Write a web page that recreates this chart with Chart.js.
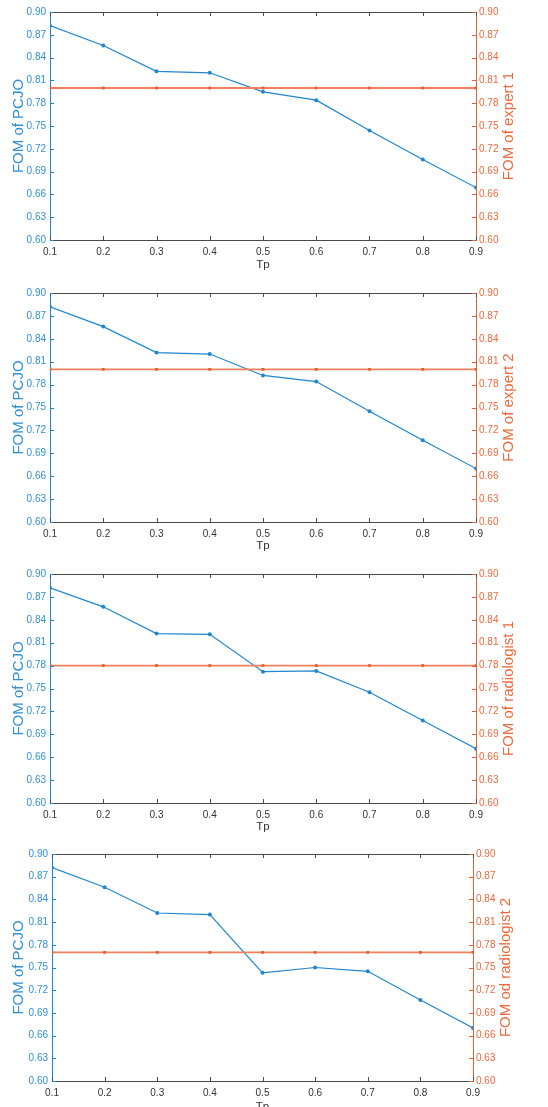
<!DOCTYPE html>
<html>
<head>
<meta charset="utf-8">
<script src="https://cdn.jsdelivr.net/npm/chart.js@4"></script>
<style>
  html, body { margin: 0; padding: 0; background: #fff; overflow: hidden; }
  body { width: 548px; height: 1107px; position: relative; }
  .panel { position: absolute; left: 0; width: 548px; height: 281px; }
</style>
</head>
<body>
<div class="panel" style="top:0px"><canvas id="c1"></canvas></div>
<div class="panel" style="top:281px"><canvas id="c2"></canvas></div>
<div class="panel" style="top:562px"><canvas id="c3"></canvas></div>
<div class="panel" style="top:842px"><canvas id="c4"></canvas></div>
<script>
// data
const tpValues = [0.1, 0.2, 0.3, 0.4, 0.5, 0.6, 0.7, 0.8, 0.9];
const yTicks = [0.60, 0.63, 0.66, 0.69, 0.72, 0.75, 0.78, 0.81, 0.84, 0.87, 0.90];

const pcjoExpert1 = [0.882, 0.856, 0.822, 0.820, 0.795, 0.784, 0.744, 0.706, 0.669];
const pcjoExpert2 = [0.882, 0.856, 0.822, 0.820, 0.792, 0.784, 0.745, 0.707, 0.670];
const pcjoRadiologist1 = [0.882, 0.857, 0.822, 0.821, 0.772, 0.773, 0.745, 0.708, 0.671];
const pcjoRadiologist2 = [0.882, 0.856, 0.822, 0.820, 0.743, 0.750, 0.745, 0.707, 0.670];

const expert1 = [0.80, 0.80, 0.80, 0.80, 0.80, 0.80, 0.80, 0.80, 0.80];
const expert2 = [0.80, 0.80, 0.80, 0.80, 0.80, 0.80, 0.80, 0.80, 0.80];
const radiologist1 = [0.78, 0.78, 0.78, 0.78, 0.78, 0.78, 0.78, 0.78, 0.78];
const radiologist2 = [0.77, 0.77, 0.77, 0.77, 0.77, 0.77, 0.77, 0.77, 0.77];

const leftTitle = "FOM of PCJO";
const rightTitles = ["FOM of expert 1", "FOM of expert 2", "FOM of radiologist 1", "FOM od radiologist 2"];

const BLUE = "#1f86cf";
const BLUE_TXT = "#3090d6";
const ORANGE = "#e65f30";
const ORANGE_TXT = "#ee6a3c";
const DARK = "#4a4a4a";
const FONT = "'Liberation Sans', Arial, sans-serif";

function pts(ys) {
    return tpValues.map((x, i) => ({ x: x, y: ys[i] }));
}

// MATLAB-like frame: inward ticks, black top edge, right axis label bottom-to-top
const framePlugin = {
    id: "frame",
    afterDraw(chart, args, opts) {
        const ctx = chart.ctx;
        const a = chart.chartArea;
        const xs = chart.scales.x, yl = chart.scales.y, yr = chart.scales.y2;
        const tl = 4;
        ctx.save();
        ctx.lineWidth = 1;

        // top edge
        ctx.strokeStyle = DARK;
        ctx.beginPath();
        ctx.moveTo(a.left, a.top + 0.5);
        ctx.lineTo(a.right, a.top + 0.5);
        ctx.stroke();

        // x ticks (bottom + top)
        tpValues.forEach(v => {
            const px = Math.round(xs.getPixelForValue(v)) + 0.5;
            ctx.beginPath();
            ctx.moveTo(px, a.bottom);
            ctx.lineTo(px, a.bottom - tl);
            ctx.moveTo(px, a.top);
            ctx.lineTo(px, a.top + tl);
            ctx.stroke();
        });

        // left ticks
        ctx.strokeStyle = BLUE;
        yTicks.forEach(v => {
            const py = Math.round(yl.getPixelForValue(v)) + 0.5;
            ctx.beginPath();
            ctx.moveTo(a.left, py);
            ctx.lineTo(a.left + tl, py);
            ctx.stroke();
        });

        // right ticks
        ctx.strokeStyle = ORANGE;
        yTicks.forEach(v => {
            const py = Math.round(yr.getPixelForValue(v)) + 0.5;
            ctx.beginPath();
            ctx.moveTo(a.right, py);
            ctx.lineTo(a.right - tl, py);
            ctx.stroke();
        });

        // right axis title
        ctx.fillStyle = ORANGE_TXT;
        ctx.font = "15px " + FONT;
        ctx.textAlign = "center";
        ctx.textBaseline = "middle";
        ctx.translate(opts.titleX, (a.top + a.bottom) / 2);
        ctx.rotate(-Math.PI / 2);
        ctx.fillText(opts.rightTitle, 0, 0);
        ctx.restore();
    }
};

function makePanel(id, pcjo, ref, rightTitle, leftW, rightW, plotH) {
    const tickFont = { family: FONT, size: 10 };
    new Chart(document.getElementById(id), {
        type: "line",
        data: {
            datasets: [{
                data: pts(ref),
                yAxisID: "y2",
                borderColor: "#f0805c",
                backgroundColor: ORANGE,
                borderWidth: 1.8,
                pointRadius: 2,
                pointStyle: "rect",
                pointBorderWidth: 0
            }, {
                data: pts(pcjo),
                yAxisID: "y",
                borderColor: BLUE,
                backgroundColor: BLUE,
                borderWidth: 1.2,
                pointRadius: 2,
                pointBorderWidth: 0
            }]
        },
        options: {
            responsive: true,
            maintainAspectRatio: false,
            animation: false,
            layout: { padding: { top: 12, left: 0, right: 0, bottom: 0 } },
            plugins: {
                legend: { display: false },
                tooltip: { enabled: false },
                frame: { rightTitle: rightTitle, titleX: 548 - rightW + 33 }
            },
            scales: {
                x: {
                    type: "linear",
                    min: 0.1,
                    max: 0.9,
                    afterBuildTicks: s => { s.ticks = tpValues.map(v => ({ value: v })); },
                    afterFit: s => { s.height = 281 - 12 - plotH; },
                    grid: { display: false, drawTicks: false },
                    border: { display: true, color: DARK, width: 1 },
                    ticks: {
                        color: "#333",
                        font: tickFont,
                        padding: 6,
                        maxRotation: 0,
                        autoSkip: false,
                        callback: v => v.toFixed(1)
                    },
                    title: {
                        display: true,
                        text: "Tp",
                        color: "#333",
                        font: { family: FONT, size: 11.5 },
                        padding: { top: 0, bottom: 9 }
                    }
                },
                y: {
                    position: "left",
                    min: 0.6,
                    max: 0.9,
                    afterBuildTicks: s => { s.ticks = yTicks.map(v => ({ value: v })); },
                    afterFit: s => { s.width = leftW; },
                    grid: { display: false, drawTicks: false },
                    border: { display: true, color: BLUE, width: 1 },
                    ticks: {
                        color: BLUE_TXT,
                        font: tickFont,
                        padding: 4,
                        autoSkip: false,
                        callback: v => v.toFixed(2)
                    },
                    title: {
                        display: true,
                        text: leftTitle,
                        color: BLUE_TXT,
                        font: { family: FONT, size: 15 },
                        padding: { top: 10, bottom: 0 }
                    }
                },
                y2: {
                    position: "right",
                    min: 0.6,
                    max: 0.9,
                    afterBuildTicks: s => { s.ticks = yTicks.map(v => ({ value: v })); },
                    afterFit: s => { s.width = rightW; },
                    grid: { display: false, drawTicks: false },
                    border: { display: true, color: ORANGE, width: 1 },
                    ticks: {
                        color: ORANGE_TXT,
                        font: tickFont,
                        padding: 3,
                        autoSkip: false,
                        callback: v => v.toFixed(2)
                    }
                }
            }
        },
        plugins: [framePlugin]
    });
}

makePanel("c1", pcjoExpert1, expert1, rightTitles[0], 50, 72, 228);
makePanel("c2", pcjoExpert2, expert2, rightTitles[1], 50, 72, 229);
makePanel("c3", pcjoRadiologist1, radiologist1, rightTitles[2], 50, 72, 229);
makePanel("c4", pcjoRadiologist2, radiologist2, rightTitles[3], 52, 75, 227);
</script>
</body>
</html>
